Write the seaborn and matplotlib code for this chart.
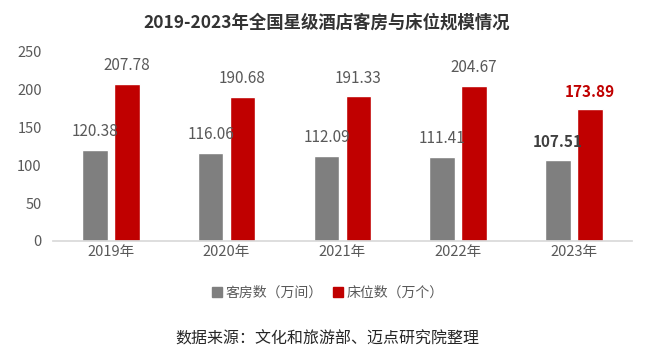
import pandas as pd
import seaborn as sns
import matplotlib.pyplot as plt
from matplotlib.lines import Line2D

# data
years = ['2019年', '2020年', '2021年', '2022年', '2023年']
rooms = [120.38, 116.06, 112.09, 111.41, 107.51]   # 客房数（万间）
beds = [207.78, 190.68, 191.33, 204.67, 173.89]    # 床位数（万个）
series = ['客房数（万间）', '床位数（万个）']
colors = ['#7f7f7f', '#c00000']

df = pd.DataFrame({
    'year': years * 2,
    'value': rooms + beds,
    'series': [series[0]] * len(years) + [series[1]] * len(years),
})

sns.set_theme(style='white')
plt.rcParams['font.family'] = ['Noto Sans CJK SC', 'DejaVu Sans']

fig = plt.figure(figsize=(6.54, 3.58), dpi=100)
ax = fig.add_axes([0.081, 0.327, 0.885, 0.528])

sns.barplot(data=df, x='year', y='value', hue='series', palette=colors,
            width=0.55, gap=0.2, saturation=1, legend=False, ax=ax)

ax.set_ylim(0, 250)
ax.set_yticks([0, 50, 100, 150, 200, 250])
ax.set_xlabel('')
ax.set_ylabel('')
ax.tick_params(axis='both', labelsize=10.5, colors='#595959', length=0)
ax.tick_params(axis='x', pad=3)
ax.tick_params(axis='y', pad=8)
for s in ['left', 'right', 'top']:
    ax.spines[s].set_visible(False)
ax.spines['bottom'].set_color('#d9d9d9')

# value labels, last year highlighted
label_colors = ['#595959', '#595959']
last_colors = ['#404040', '#c00000']
for i, cont in enumerate(ax.containers):
    texts = ax.bar_label(cont, fmt='%.2f', padding=7, fontsize=11,
                         color=label_colors[i])
    texts[-1].set_color(last_colors[i])
    texts[-1].set_fontweight('bold')

fig.text(0.5, 0.938, '2019-2023年全国星级酒店客房与床位规模情况',
         ha='center', va='center', fontsize=12.5, fontweight='bold',
         color='#333333')

handles = [Line2D([], [], marker='s', linestyle='', markersize=7,
                  markerfacecolor=c, markeredgecolor=c) for c in colors]
fig.legend(handles, series, loc='center', bbox_to_anchor=(0.5, 0.182),
           ncol=2, frameon=False, fontsize=10, handletextpad=0.1,
           columnspacing=0.6, labelcolor='#595959', handlelength=1)

fig.text(0.5, 0.052, '数据来源：文化和旅游部、迈点研究院整理',
         ha='center', va='center', fontsize=11.5, color='#262626')

fig.savefig('out.png', dpi=100)
